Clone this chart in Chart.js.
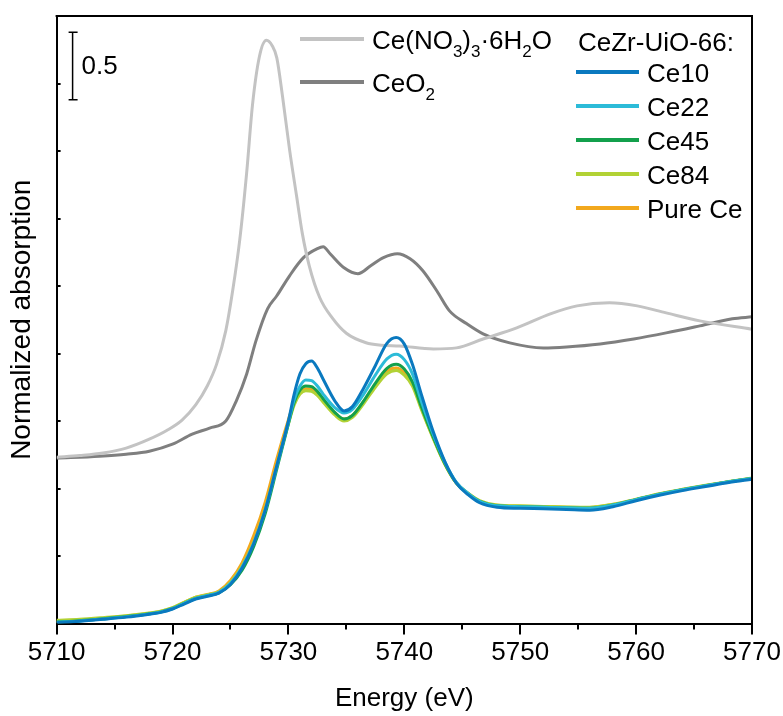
<!DOCTYPE html>
<html>
<head>
<meta charset="utf-8">
<title>Ce L3-edge XANES</title>
<script src="https://cdn.jsdelivr.net/npm/chart.js@4.4.1/dist/chart.umd.min.js"></script>
<style>
  html, body { margin: 0; padding: 0; background: #fff; }
  canvas { display: block; }
</style>
</head>
<body>
<canvas id="xanes" width="783" height="716"></canvas>
<script>
// Ce L3-edge XANES: reference compounds (stacked with an offset) and CeZr-UiO-66 samples.

// Reference spectra, each on its own energy grid (eV) and normalized absorption
const nitrateEnergy = [5710, 5712, 5714, 5716, 5718, 5719.5, 5720.8, 5722, 5723, 5723.8, 5724.6, 5725.2, 5725.8, 5726.4, 5726.9, 5727.5, 5728.1, 5728.6, 5729.0, 5729.5, 5730.1, 5730.7, 5731.2, 5731.8, 5732.7, 5733.8, 5735.0, 5736.7, 5738, 5739.6, 5742.5, 5744.5, 5746.8, 5749.7, 5752.6, 5754.9, 5757.7, 5760.1, 5762.6, 5765.5, 5770];
const nitrateMu = [0.032, 0.045, 0.064, 0.100, 0.166, 0.230, 0.305, 0.420, 0.560, 0.720, 0.970, 1.270, 1.640, 2.140, 2.640, 3.000, 3.120, 3.080, 2.990, 2.700, 2.310, 1.970, 1.690, 1.450, 1.215, 1.062, 0.950, 0.880, 0.862, 0.856, 0.834, 0.842, 0.908, 0.990, 1.094, 1.153, 1.176, 1.153, 1.101, 1.042, 0.980];

const ceriaEnergy = [5710, 5713.7, 5716, 5718, 5720, 5721.7, 5723.2, 5724.6, 5725.5, 5726.4, 5727.2, 5728.2, 5729.0, 5730.1, 5731.3, 5732.5, 5733.0, 5733.6, 5734.8, 5736.0, 5737.1, 5738.2, 5739.4, 5740.5, 5741.6, 5742.8, 5743.9, 5745.4, 5746.8, 5749.1, 5752, 5754, 5756.9, 5759.8, 5762.6, 5765.5, 5768.3, 5770];
const ceriaMu = [0.025, 0.040, 0.055, 0.077, 0.129, 0.203, 0.248, 0.300, 0.448, 0.649, 0.894, 1.131, 1.228, 1.376, 1.510, 1.577, 1.591, 1.539, 1.435, 1.391, 1.450, 1.510, 1.539, 1.502, 1.413, 1.265, 1.116, 1.020, 0.946, 0.879, 0.842, 0.849, 0.871, 0.908, 0.953, 1.005, 1.057, 1.072];

// vertical shift applied to the reference spectra
const referenceOffset = 1.2;

// CeZr-UiO-66 samples share one energy grid
const sampleEnergy = [5710, 5712, 5714, 5716, 5718, 5719, 5720, 5721, 5722, 5723, 5724, 5725, 5726, 5727, 5728, 5729, 5730, 5730.5, 5731, 5731.5, 5732, 5732.5, 5733, 5734, 5734.8, 5735.5, 5736.5, 5737.5, 5738.5, 5739.3, 5740, 5740.7, 5741.5, 5742.5, 5743.5, 5744.5, 5745.5, 5746.5, 5748, 5750, 5752, 5754, 5756, 5758, 5760, 5762, 5764, 5766, 5768, 5770];
const ce10Mu = [0.007, 0.018, 0.032, 0.048, 0.070, 0.083, 0.108, 0.145, 0.182, 0.203, 0.226, 0.290, 0.410, 0.590, 0.840, 1.170, 1.500, 1.700, 1.850, 1.925, 1.945, 1.893, 1.810, 1.650, 1.575, 1.605, 1.745, 1.910, 2.075, 2.118, 2.070, 1.920, 1.690, 1.420, 1.200, 1.040, 0.955, 0.895, 0.862, 0.854, 0.850, 0.845, 0.840, 0.866, 0.910, 0.950, 0.985, 1.015, 1.045, 1.069];
const ce22Mu = [0.010, 0.020, 0.034, 0.050, 0.072, 0.086, 0.112, 0.150, 0.187, 0.208, 0.232, 0.298, 0.418, 0.595, 0.840, 1.165, 1.490, 1.660, 1.760, 1.805, 1.800, 1.760, 1.700, 1.600, 1.560, 1.585, 1.700, 1.840, 1.960, 1.995, 1.955, 1.850, 1.640, 1.400, 1.195, 1.045, 0.965, 0.905, 0.872, 0.866, 0.862, 0.858, 0.855, 0.878, 0.918, 0.958, 0.992, 1.022, 1.050, 1.075];
const ce45Mu = [0.012, 0.022, 0.036, 0.052, 0.073, 0.087, 0.112, 0.150, 0.186, 0.206, 0.228, 0.288, 0.395, 0.570, 0.815, 1.145, 1.480, 1.640, 1.730, 1.760, 1.755, 1.720, 1.665, 1.565, 1.515, 1.540, 1.650, 1.780, 1.890, 1.920, 1.885, 1.790, 1.600, 1.380, 1.185, 1.040, 0.962, 0.905, 0.872, 0.866, 0.862, 0.858, 0.855, 0.878, 0.918, 0.958, 0.992, 1.022, 1.050, 1.075];
const ce84Mu = [0.025, 0.032, 0.044, 0.058, 0.078, 0.092, 0.118, 0.158, 0.195, 0.214, 0.236, 0.305, 0.425, 0.600, 0.850, 1.170, 1.480, 1.620, 1.700, 1.725, 1.720, 1.690, 1.640, 1.545, 1.500, 1.525, 1.630, 1.750, 1.850, 1.875, 1.840, 1.760, 1.580, 1.370, 1.180, 1.040, 0.965, 0.910, 0.878, 0.872, 0.868, 0.864, 0.862, 0.884, 0.922, 0.962, 0.995, 1.025, 1.052, 1.078];
const pureCeMu = [0.015, 0.026, 0.040, 0.056, 0.077, 0.091, 0.117, 0.157, 0.195, 0.216, 0.242, 0.320, 0.450, 0.650, 0.900, 1.220, 1.510, 1.640, 1.715, 1.740, 1.735, 1.705, 1.655, 1.560, 1.515, 1.540, 1.645, 1.770, 1.870, 1.893, 1.858, 1.775, 1.590, 1.375, 1.182, 1.040, 0.965, 0.908, 0.876, 0.870, 0.866, 0.862, 0.860, 0.882, 0.920, 0.960, 0.993, 1.023, 1.050, 1.075];

// names ("_d" marks a subscript digit)
const referenceNames = ['Ce(NO_3)_3·6H_2O', 'CeO_2'];
const sampleGroupName = 'CeZr-UiO-66:';
const sampleNames = ['Ce10', 'Ce22', 'Ce45', 'Ce84', 'Pure Ce'];

// axes
const energyRange = [5710, 5770];
const energyTickLabels = ['5710', '5720', '5730', '5740', '5750', '5760', '5770'];
const absorptionRange = [0, 4.5];
const scaleBarValue = 0.5;

const FONT = '"Liberation Sans", Arial, Helvetica, sans-serif';
const referenceColors = ['#c3c3c3', '#7f7f7f'];
const sampleColors = ['#0a79bf', '#2cbbd8', '#13a04c', '#b2d235', '#f2a81d'];

const toPoints = (xs, ys, shift = 0) => xs.map((e, i) => ({ x: e, y: ys[i] + shift }));

const sampleSeries = [ce10Mu, ce22Mu, ce45Mu, ce84Mu, pureCeMu];

const datasets = [
  ...sampleNames.map((name, i) => ({
    label: name,
    data: toPoints(sampleEnergy, sampleSeries[i]),
    borderColor: sampleColors[i],
  })),
  {
    label: referenceNames[0],
    data: toPoints(nitrateEnergy, nitrateMu, referenceOffset),
    borderColor: referenceColors[0],
  },
  {
    label: referenceNames[1],
    data: toPoints(ceriaEnergy, ceriaMu, referenceOffset),
    borderColor: referenceColors[1],
  },
].map(ds => Object.assign(ds, {
  borderWidth: 3,
  pointRadius: 0,
  fill: false,
  cubicInterpolationMode: 'monotone',
}));

// text with subscript digits written as "_d"
function drawRichText(ctx, text, x, baseline, size) {
  const parts = text.split(/(_\d)/).filter(Boolean);
  let cx = x;
  for (const part of parts) {
    if (part[0] === '_') {
      const sub = part.slice(1);
      ctx.font = Math.round(size * 0.66) + 'px ' + FONT;
      ctx.fillText(sub, cx, baseline + size * 0.32);
      cx += ctx.measureText(sub).width;
    } else {
      ctx.font = size + 'px ' + FONT;
      ctx.fillText(part, cx, baseline);
      cx += ctx.measureText(part).width;
    }
  }
}

const decorations = {
  id: 'decorations',
  afterDraw(chart) {
    const { ctx, chartArea: a, scales: { x, y } } = chart;
    ctx.save();
    ctx.strokeStyle = '#000';
    ctx.fillStyle = '#000';
    ctx.lineWidth = 2;
    ctx.lineCap = 'butt';

    // closing frame (top and right)
    ctx.beginPath();
    ctx.moveTo(a.left - 1, a.top);
    ctx.lineTo(a.right, a.top);
    ctx.lineTo(a.right, a.bottom + 1);
    ctx.stroke();

    // energy ticks: majors every 10 eV, minors in between, pointing outward
    for (let e = energyRange[0]; e <= energyRange[1]; e += 5) {
      const px = Math.round(x.getPixelForValue(e));
      const len = (e - energyRange[0]) % 10 === 0 ? 11 : 6;
      ctx.beginPath();
      ctx.moveTo(px, a.bottom);
      ctx.lineTo(px, a.bottom + len);
      ctx.stroke();
    }

    // absorption ticks: short, pointing inward, no labels
    for (let v = 0.5; v < absorptionRange[1]; v += 0.5) {
      const py = Math.round(y.getPixelForValue(v));
      ctx.beginPath();
      ctx.moveTo(a.left, py);
      ctx.lineTo(a.left + 4, py);
      ctx.stroke();
    }

    // scale bar
    const barX = a.left + 16;
    const barTop = y.getPixelForValue(4.38);
    const barBottom = y.getPixelForValue(4.38 - scaleBarValue);
    ctx.lineWidth = 1.5;
    ctx.beginPath();
    ctx.moveTo(barX, barTop); ctx.lineTo(barX, barBottom);
    ctx.moveTo(barX - 4, barTop); ctx.lineTo(barX + 5, barTop);
    ctx.moveTo(barX - 4, barBottom); ctx.lineTo(barX + 5, barBottom);
    ctx.stroke();
    ctx.textBaseline = 'middle';
    ctx.textAlign = 'left';
    ctx.font = '26px ' + FONT;
    ctx.fillText(String(scaleBarValue), barX + 9, (barTop + barBottom) / 2 + 1);

    // legend
    ctx.textBaseline = 'alphabetic';
    ctx.lineWidth = 4;
    const refRows = [39, 82];
    referenceNames.forEach((name, i) => {
      ctx.strokeStyle = referenceColors[i];
      ctx.beginPath();
      ctx.moveTo(300, refRows[i]); ctx.lineTo(364, refRows[i]);
      ctx.stroke();
      ctx.fillStyle = '#000';
      drawRichText(ctx, name, 372, refRows[i] + 10, 26);
    });
    ctx.font = '26px ' + FONT;
    ctx.fillText(sampleGroupName, 578, 51);
    sampleNames.forEach((name, i) => {
      const ry = 72 + 34 * i;
      ctx.strokeStyle = sampleColors[i];
      ctx.beginPath();
      ctx.moveTo(576, ry); ctx.lineTo(639, ry);
      ctx.stroke();
      ctx.fillStyle = '#000';
      ctx.font = '26px ' + FONT;
      ctx.fillText(name, 647, ry + 10);
    });
    ctx.restore();
  }
};

Chart.defaults.font.family = FONT;
Chart.defaults.color = '#000';

new Chart(document.getElementById('xanes'), {
  type: 'line',
  data: { datasets },
  options: {
    responsive: false,
    animation: false,
    devicePixelRatio: 1,
    layout: { padding: { left: 0, right: 31, top: 16, bottom: 0 } },
    plugins: { legend: { display: false }, tooltip: { enabled: false } },
    scales: {
      x: {
        type: 'linear',
        min: energyRange[0],
        max: energyRange[1],
        afterBuildTicks(scale) {
          scale.ticks = energyTickLabels.map(t => ({ value: Number(t) }));
        },
        ticks: {
          font: { size: 26 },
          padding: 0,
          maxRotation: 0,
          autoSkip: false,
          callback: (v) => String(v),
        },
        // invisible built-in tick marks only reserve room above the labels;
        // the visible major/minor marks are drawn by the plugin
        grid: { drawOnChartArea: false, drawTicks: true, tickLength: 14, tickColor: 'rgba(0,0,0,0)' },
        border: { display: true, color: '#000', width: 2 },
        title: {
          display: true,
          text: 'Energy (eV)',
          font: { size: 26 },
          padding: { top: 14, bottom: 2 },
        },
      },
      y: {
        type: 'linear',
        min: absorptionRange[0],
        max: absorptionRange[1],
        ticks: { display: false },
        grid: { drawOnChartArea: false, drawTicks: false },
        border: { display: true, color: '#000', width: 2 },
        title: {
          display: true,
          text: 'Normalized absorption',
          font: { size: 28 },
          padding: { top: 5, bottom: 18 },
        },
      },
    },
  },
  plugins: [decorations],
});
</script>
</body>
</html>
